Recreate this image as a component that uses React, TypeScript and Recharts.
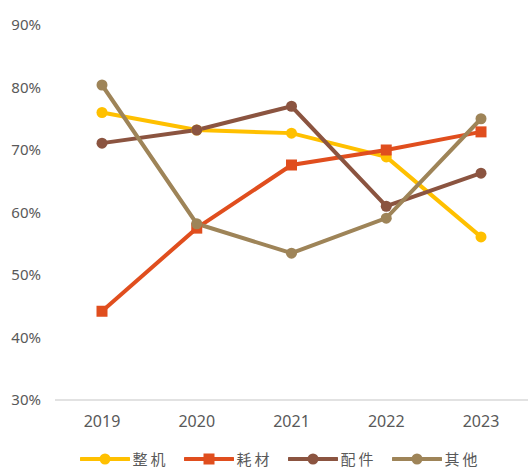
import React from 'react';
import { LineChart, Line, XAxis, YAxis, Legend } from 'recharts';

const years = ['2019', '2020', '2021', '2022', '2023'];
const zhengji = [76.0, 73.2, 72.7, 68.9, 56.1];
const haocai = [44.2, 57.5, 67.6, 70.0, 72.9];
const peijian = [71.1, 73.2, 77.0, 61.0, 66.3];
const qita = [80.4, 58.2, 53.5, 59.1, 75.0];
const yTicks = [30, 40, 50, 60, 70, 80, 90];

const series = [
  { key: 'zhengji', name: '整机', color: '#FFC000', shape: 'circle' },
  { key: 'haocai', name: '耗材', color: '#E04E1E', shape: 'square' },
  { key: 'peijian', name: '配件', color: '#8B5440', shape: 'circle' },
  { key: 'qita', name: '其他', color: '#9E8458', shape: 'circle' },
];

const data = years.map((year, i) => ({
  year,
  zhengji: zhengji[i],
  haocai: haocai[i],
  peijian: peijian[i],
  qita: qita[i],
}));

const SquareDot = (props: any) => {
  const { cx, cy, fill } = props;
  if (cx == null || cy == null) return null;
  return <rect x={cx - 5.5} y={cy - 5.5} width={11} height={11} fill={fill} />;
};

const LegendContent = () => (
  <div style={{ display: 'flex', justifyContent: 'center', paddingTop: 21, paddingLeft: 47, lineHeight: '16px' }}>
    {series.map(s => (
      <div key={s.key} style={{ display: 'flex', alignItems: 'center', marginRight: 15, height: 16 }}>
        <svg width={50} height={14}>
          <line x1={1} y1={7} x2={49} y2={7} stroke={s.color} strokeWidth={4} strokeLinecap="round" />
          {s.shape === 'square'
            ? <rect x={19.5} y={1.5} width={11} height={11} fill={s.color} />
            : <circle cx={25} cy={7} r={5.5} fill={s.color} />}
        </svg>
        <span style={{ width: 36, fontSize: 15, lineHeight: '16px', color: '#595959', marginLeft: 3, letterSpacing: 3, whiteSpace: 'nowrap', fontFamily: '"Noto Sans CJK SC", sans-serif' }}>{s.name}</span>
      </div>
    ))}
  </div>
);

export default function App() {
  return (
    <div style={{ position: 'absolute', left: 0, top: 0, background: '#fff', fontFamily: '"Noto Sans", "Noto Sans CJK SC", sans-serif' }}>
      <LineChart width={529} height={468} data={data} margin={{ top: 25, right: 1, bottom: 0, left: 0 }}>
        <XAxis
          dataKey="year"
          height={30}
          padding={{ left: 47, right: 47 }}
          axisLine={{ stroke: '#D9D9D9', strokeWidth: 1.5 }}
          tickLine={false}
          tick={{ fill: '#595959', fontSize: 16 }}
          tickMargin={10}
        />
        <YAxis
          width={55}
          domain={[30, 90]}
          ticks={yTicks}
          interval={0}
          axisLine={false}
          tickLine={false}
          tickSize={0}
          tickMargin={14}
          tickFormatter={(v: number) => `${v}%`}
          tick={{ fill: '#595959', fontSize: 15 }}
        />
        <Legend verticalAlign="bottom" height={38} content={<LegendContent />} />
        {series.map(s => (
          <Line
            key={s.key}
            dataKey={s.key}
            name={s.name}
            stroke={s.color}
            strokeWidth={4}
            isAnimationActive={false}
            dot={s.shape === 'square'
              ? <SquareDot fill={s.color} />
              : { r: 5.5, fill: s.color, stroke: 'none' }}
            activeDot={false}
          />
        ))}
      </LineChart>
    </div>
  );
}
